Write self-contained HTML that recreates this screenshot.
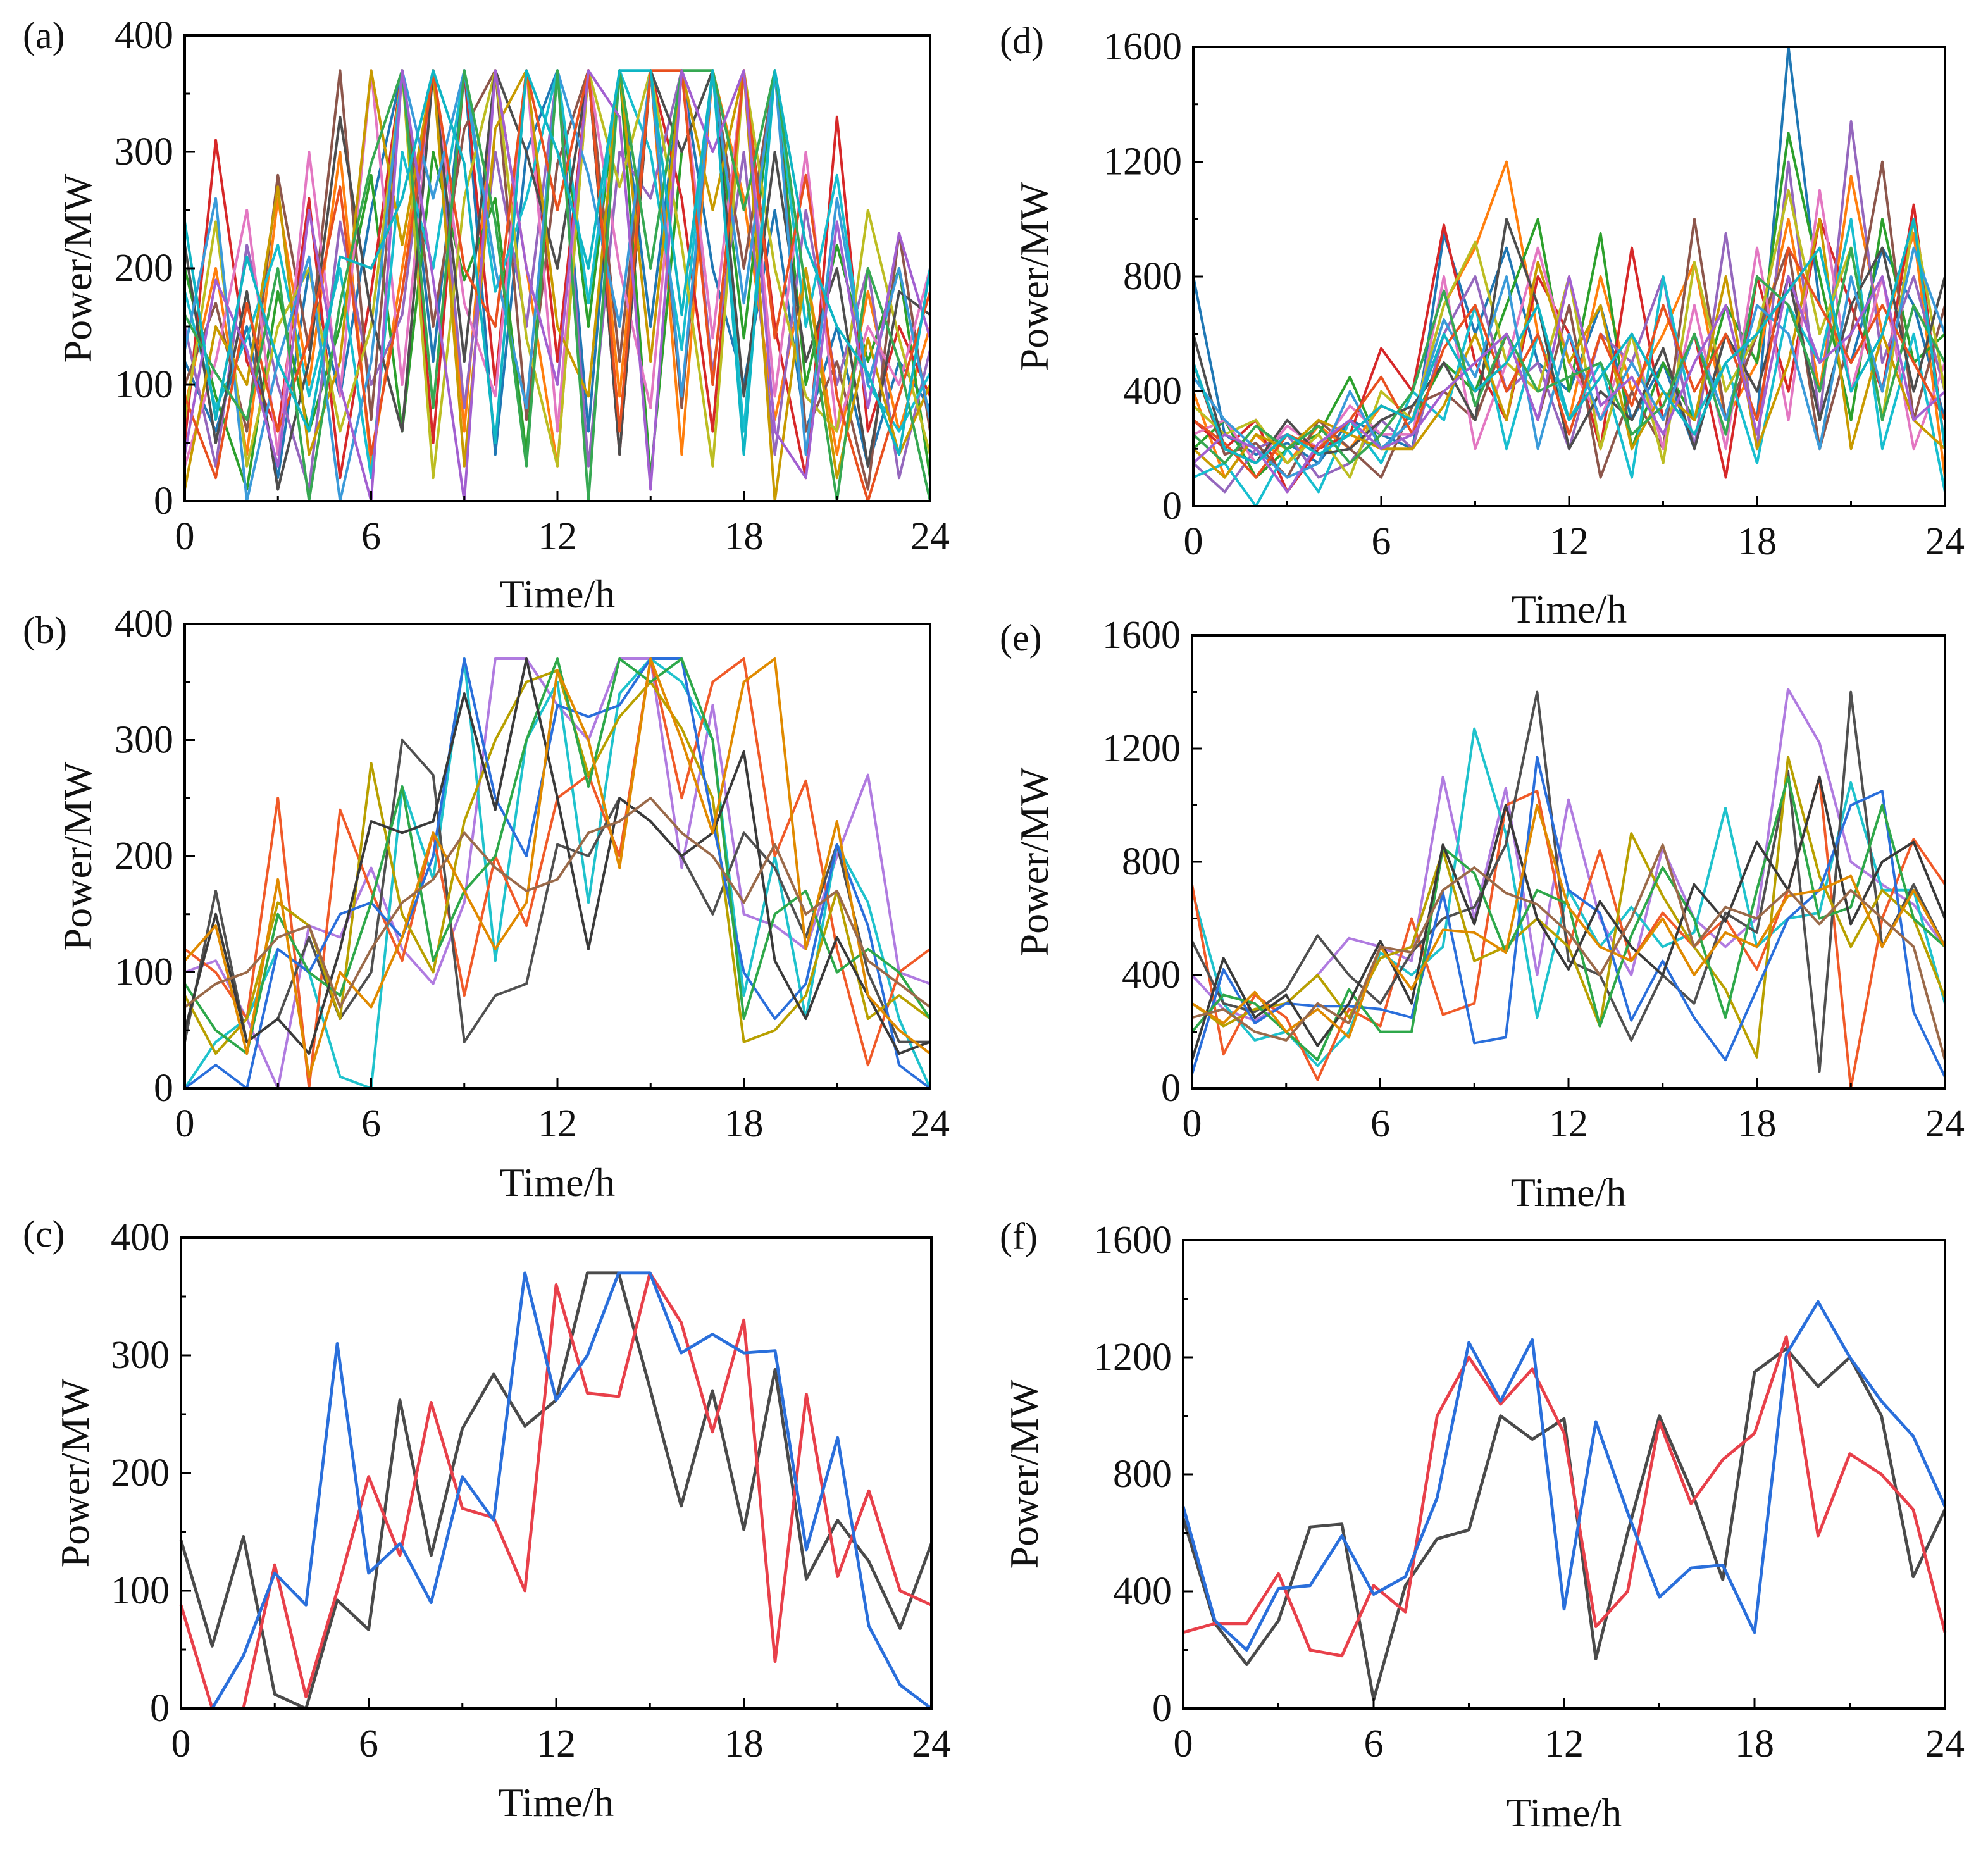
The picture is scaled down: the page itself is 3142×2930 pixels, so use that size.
<!DOCTYPE html>
<html><head><meta charset="utf-8"><style>
html,body{margin:0;padding:0;background:#fff}
svg{display:block}
text{font-family:"Liberation Serif",serif;fill:#111}
</style></head><body>
<svg id="fig" xmlns="http://www.w3.org/2000/svg" width="3142" height="2930" viewBox="0 0 1571 1465"></svg>
<script>
const xCategories=[0,1,2,3,4,5,6,7,8,9,10,11,12,13,14,15,16,17,18,19,20,21,22,23,24];
const xTickLabels=["0","6","12","18","24"];
const yTicksSmall=["0","100","200","300","400"];
const yTicksLarge=["0","400","800","1200","1600"];
const seriesA=[
[120,60,150,20,200,90,250,370,120,370,40,300,370,60,370,150,370,200,100,250,60,150,30,120,80],
[80,200,40,260,100,300,30,200,370,60,370,200,30,370,90,370,40,370,260,70,200,40,180,60,150],
[200,90,10,180,60,150,280,60,300,190,260,40,370,150,370,20,300,370,140,370,100,220,120,200,20],
[50,310,120,60,260,20,180,370,50,370,100,370,120,370,40,370,260,60,370,150,20,330,60,150,90],
[150,30,220,100,10,240,100,160,370,80,300,150,370,30,300,260,370,110,300,40,250,100,200,20,130],
[100,170,60,280,130,370,70,370,150,320,370,70,290,370,120,370,80,370,200,370,60,120,10,230,60],
[30,120,250,40,300,90,370,100,370,170,90,370,60,370,200,80,370,140,370,90,300,60,150,100,200],
[180,80,140,220,90,200,20,300,200,370,180,260,370,170,370,300,130,370,60,370,150,280,100,60,110],
[70,240,30,150,200,60,150,370,20,260,370,140,30,370,270,370,220,30,370,200,90,60,250,140,40],
[220,50,180,10,120,330,160,60,370,120,370,300,200,370,40,370,300,370,90,300,120,200,30,180,160],
[10,150,100,270,40,120,370,220,370,30,320,370,150,90,370,120,370,250,370,0,200,20,140,40,100],
[130,260,0,120,210,0,120,370,260,370,200,80,370,280,150,370,90,370,170,370,40,260,100,200,70],
[90,20,170,60,140,270,40,180,370,200,150,370,250,370,60,370,370,100,370,140,280,90,0,90,180],
[160,110,70,200,0,170,290,370,80,370,240,30,370,0,370,200,370,370,250,370,180,0,200,120,0],
[40,190,130,30,250,100,0,370,190,0,370,200,100,370,330,10,370,300,370,60,20,240,80,230,140],
[240,70,210,120,60,210,200,260,370,290,50,370,300,200,370,370,160,370,40,370,220,150,110,40,200]];
const seriesB=[
[100,110,60,0,140,130,190,120,90,160,370,370,330,300,370,370,190,330,150,140,120,200,270,100,90],
[0,40,60,120,100,10,0,260,180,370,110,300,350,160,340,370,350,300,80,200,60,210,160,60,0],
[120,100,60,250,0,240,170,110,220,80,200,140,250,270,200,370,250,350,370,200,265,120,20,100,120],
[40,170,40,60,130,60,100,300,270,40,80,90,210,200,250,230,200,150,220,190,130,210,100,40,40],
[80,30,60,160,140,60,280,150,100,230,300,350,360,270,320,350,310,250,40,50,80,170,60,80,60],
[0,20,0,120,100,150,160,130,200,370,250,200,330,320,330,370,370,230,100,60,90,210,140,20,0],
[90,50,30,150,100,80,160,260,110,170,200,300,370,260,370,350,370,300,60,150,170,100,120,100,60],
[50,150,40,60,30,120,230,220,230,340,240,370,250,120,250,230,200,220,290,110,60,130,80,30,40],
[110,140,30,180,10,100,70,130,220,170,120,160,360,300,190,370,300,220,350,370,120,230,80,50,30],
[70,90,100,130,140,70,120,160,180,220,190,170,180,220,230,250,220,200,160,210,150,170,110,90,70]];
const seriesCBlue=[0,0,45,115,88,310,115,140,90,197,160,370,262,300,370,370,302,318,302,304,135,230,70,20,0];
const seriesCRed=[88,0,0,122,10,100,197,130,260,170,162,100,360,268,265,370,328,235,330,40,267,112,185,100,88];
const seriesCBlack=[143,53,146,12,0,92,67,262,130,238,284,240,262,370,370,272,172,270,152,288,110,160,125,68,140];
const seriesD=[
[800,250,180,220,150,300,250,200,950,600,900,500,400,700,300,500,200,600,300,1600,700,500,900,700,300],
[400,100,250,150,280,200,350,300,700,900,1200,600,300,800,400,600,850,300,500,1000,400,1150,600,950,100],
[200,300,100,200,250,450,200,300,500,400,700,1000,400,950,200,500,300,700,500,1300,800,300,1000,500,600],
[300,200,300,50,200,250,550,400,980,500,300,800,600,200,900,300,600,100,800,400,1000,700,400,1050,200],
[150,50,200,250,100,150,300,200,600,800,400,500,200,600,500,800,200,950,200,1200,300,1340,500,800,400],
[500,180,220,100,300,200,100,350,400,300,600,300,700,100,400,200,1000,300,600,900,200,600,1200,300,700],
[250,300,150,280,200,350,250,250,800,200,500,900,500,300,600,200,700,200,900,300,1100,400,800,200,500],
[100,150,0,200,50,300,150,400,300,700,200,600,300,500,100,800,300,500,150,700,500,1000,200,600,50],
[350,250,300,150,250,100,400,300,700,920,500,400,800,200,600,150,850,400,600,1100,600,900,300,1000,400],
[600,200,150,300,180,200,300,350,500,300,1000,700,200,400,300,550,200,600,400,800,300,700,900,400,800],
[200,100,250,200,300,250,200,200,350,600,300,850,500,700,200,400,300,800,200,500,1000,200,600,300,200],
[450,300,200,100,150,400,200,300,650,450,800,200,600,300,500,300,600,300,700,600,200,800,400,900,600],
[300,220,100,250,200,300,450,250,550,700,400,600,250,600,350,700,400,600,300,900,700,500,700,500,300],
[250,150,280,200,280,150,250,400,750,350,600,400,450,500,250,350,600,250,800,700,400,900,300,700,500],
[150,250,200,50,220,300,200,250,400,500,600,300,800,350,450,250,500,700,250,800,500,600,800,300,400],
[500,200,150,250,180,250,350,300,600,400,500,700,300,450,600,400,250,500,600,750,900,400,600,1000,200]];
const seriesE=[
[400,280,240,300,400,530,500,450,1100,600,1060,400,1020,600,400,850,600,500,600,1410,1220,800,720,650,500],
[700,300,170,200,80,200,480,400,500,1270,900,250,700,500,640,500,550,990,500,600,620,1080,700,700,300],
[720,120,330,250,30,280,220,600,260,300,1000,1050,500,840,450,620,500,600,420,700,1100,0,600,880,720],
[520,300,270,350,540,400,300,480,600,640,860,1400,450,400,170,400,300,620,550,1120,60,1400,500,720,500],
[300,220,280,300,400,250,460,500,840,450,500,600,500,220,900,680,500,350,110,1170,750,500,700,600,320],
[50,420,230,300,290,290,280,250,690,160,180,1170,700,620,240,450,250,100,350,600,700,1000,1050,270,40],
[200,330,300,200,100,350,200,200,850,760,480,700,650,220,540,780,600,250,700,1100,600,640,1000,600,500],
[100,460,250,330,150,300,520,300,860,580,1000,600,420,660,500,400,720,590,870,700,1100,580,800,870,600],
[300,230,340,200,280,180,500,350,560,550,480,1000,640,500,450,600,400,550,500,680,700,750,500,700,500],
[250,280,200,170,300,230,500,480,700,780,690,650,550,400,600,860,500,640,600,700,580,700,600,500,100]];
const seriesFBlue=[690,300,200,410,420,590,390,450,720,1250,1050,1260,340,980,670,380,480,490,260,1210,1390,1200,1050,930,690];
const seriesFRed=[260,290,290,460,200,180,420,330,1000,1200,1040,1160,940,280,400,980,700,850,940,1270,590,870,800,680,260];
const seriesFBlack=[650,290,150,300,620,630,30,420,580,610,1000,920,990,170,600,1000,750,440,1150,1230,1100,1200,1000,450,680];

const multiColors=['#1f77b4','#ff7f0e','#2ca02c','#d62728','#9467bd','#8c564b','#e377c2','#17becf','#bcbd22','#4d4d4d','#c89a00','#3a9ad9','#e8501f','#36a852','#a25fd0','#0fb5c4'];
const bColors=['#b07be0','#1fc2cc','#f05a28','#505050','#b8a000','#2a6fdb','#2ea84a','#3a3a3a','#e08a00','#9a6a4a'];
const NS='http://www.w3.org/2000/svg';
const svg=document.getElementById('fig');
function el(tag,attrs,parent){const e=document.createElementNS(NS,tag);for(const k in attrs)e.setAttribute(k,attrs[k]);(parent||svg).appendChild(e);return e;}

function panel(p){
  const g=el('g',{});
  
  
  const xs=v=>p.x0+(v/24)*(p.x1-p.x0);
  const ys=v=>p.y1-(v/p.ymax)*(p.y1-p.y0);
  const sg=el('g',{},g);
  
  
  p.series.forEach((s,i)=>{
    const pts=s.map((v,j)=>xs(xCategories[j]).toFixed(1)+','+ys(v).toFixed(1)).join(' ');
    const pl=el('polyline',{points:pts,fill:'none',stroke:p.colors[i%p.colors.length],'stroke-width':p.lw,'stroke-linejoin':'round'},sg);
    
    
  });
  const frame=el('rect',{x:p.x0,y:p.y0,width:p.x1-p.x0,height:p.y1-p.y0,fill:'none',stroke:'#000','stroke-width':2},g);
  
  
  for(let h=0;h<=24;h+=3){
    const L=h%6===0?8:4;
    el('line',{x1:xs(h),x2:xs(h),y1:p.y1,y2:p.y1-L,stroke:'#000','stroke-width':1.5},g);
  }
  xTickLabels.forEach((t,i)=>{
    const tx=el('text',{x:xs(i*6),y:p.y1+38,'font-size':31,'text-anchor':'middle'},g);
    tx.textContent=t;
    
    
  });
  const yl=p.ymax===400?yTicksSmall:yTicksLarge;
  const step=p.ymax/4;
  for(let v=0;v<=p.ymax;v+=step/2){
    const L=(v%step===0)?8:4;
    el('line',{x1:p.x0,x2:p.x0+L,y1:ys(v),y2:ys(v),stroke:'#000','stroke-width':1.5},g);
  }
  yl.forEach((t,i)=>{
    const tx=el('text',{x:p.x0-9,y:ys(i*step)+10,'font-size':31,'text-anchor':'end'},g);
    tx.textContent=t;
    
    
  });
  const xt=el('text',{x:(p.x0+p.x1)/2,y:p.xlabY,'font-size':32,'text-anchor':'middle'},g);
  xt.textContent='Time/h';
  
  
  const cy=(p.y0+p.y1)/2;
  const yt=el('text',{x:p.ylabX,y:cy,'font-size':32,'text-anchor':'middle',transform:'rotate(-90 '+p.ylabX+' '+cy+')'},g);
  yt.textContent='Power/MW';
  
  
  const pl=el('text',{x:p.lx,y:p.ly,'font-size':30},g);
  pl.textContent='('+p.id+')';
  
  
}
panel({id:'a',x0:146,x1:735,y0:28,y1:396,ymax:400,series:seriesA,colors:multiColors,lw:2,xlabY:480,ylabX:72,lx:18,ly:38});
panel({id:'b',x0:146,x1:735,y0:493,y1:860,ymax:400,series:seriesB,colors:bColors,lw:2,xlabY:945,ylabX:72,lx:18,ly:508});
panel({id:'c',x0:143,x1:736,y0:978,y1:1350,ymax:400,series:[seriesCBlack,seriesCRed,seriesCBlue],colors:['#4a4a4a','#e8404a','#2a6fdb'],lw:2.4,xlabY:1435,ylabX:70,lx:18,ly:985});
panel({id:'d',x0:943,x1:1537,y0:37,y1:400,ymax:1600,series:seriesD,colors:multiColors,lw:2,xlabY:492,ylabX:828,lx:790,ly:42});
panel({id:'e',x0:942,x1:1537,y0:502,y1:860,ymax:1600,series:seriesE,colors:bColors,lw:2,xlabY:953,ylabX:828,lx:790,ly:514});
panel({id:'f',x0:935,x1:1537,y0:980,y1:1350,ymax:1600,series:[seriesFBlack,seriesFRed,seriesFBlue],colors:['#4a4a4a','#e8404a','#2a6fdb'],lw:2.4,xlabY:1443,ylabX:820,lx:790,ly:987});
</script>
</body></html>
